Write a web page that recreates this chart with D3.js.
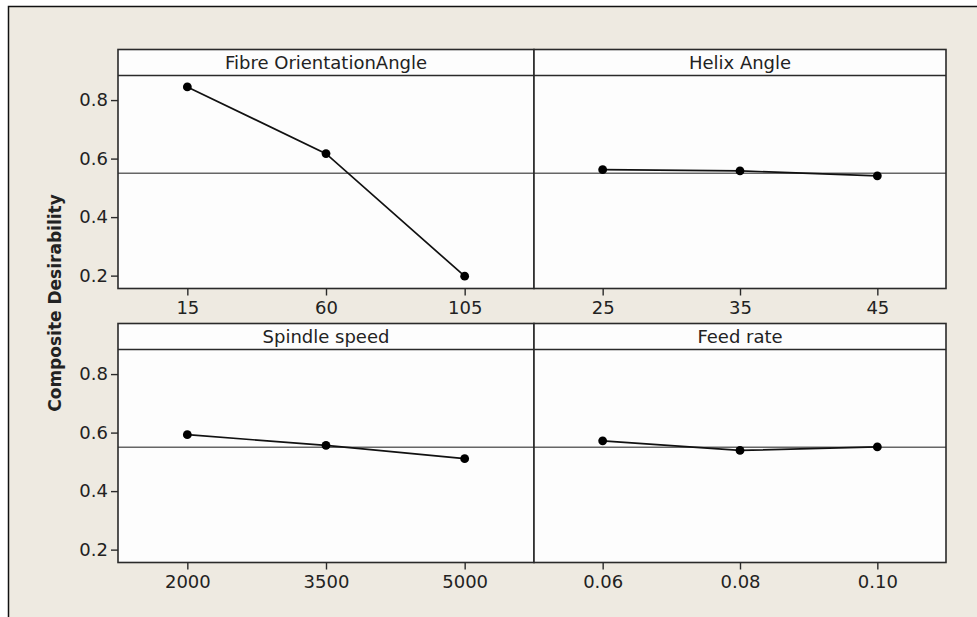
<!DOCTYPE html>
<html>
<head>
<meta charset="utf-8">
<script src="https://cdn.jsdelivr.net/npm/d3@7"></script>
<style>
  body { margin: 0; background: #ffffff; }
  text { font-family: "DejaVu Sans", Verdana, sans-serif; fill: #222; }
</style>
</head>
<body>
<div id="chart"></div>
<script>
// Factor names (panel headers)
var factors = ["Fibre OrientationAngle", "Helix Angle", "Spindle speed", "Feed rate"];

// Levels of each factor (x tick labels)
var fibreLevels = ["15", "60", "105"];
var helixLevels = ["25", "35", "45"];
var spindleLevels = ["2000", "3500", "5000"];
var feedLevels = ["0.06", "0.08", "0.10"];

// Mean composite desirability at each level
var fibreValues = [0.845, 0.617, 0.198];
var helixValues = [0.562, 0.558, 0.541];
var spindleValues = [0.593, 0.556, 0.511];
var feedValues = [0.572, 0.539, 0.551];

// Overall mean (reference line)
var overallMean = 0.55;

// Y ticks
var yTicks = [0.2, 0.4, 0.6, 0.8];

var width = 977, height = 617;

var svg = d3.select("#chart").append("svg")
    .attr("width", width)
    .attr("height", height);

// Beige background with frame
svg.append("rect")
    .attr("x", 8.5).attr("y", 6.5)
    .attr("width", 1000).attr("height", 1000)
    .attr("fill", "#eeeae1")
    .attr("stroke", "#111")
    .attr("stroke-width", 1.5);

// Panel grid geometry
var cols = [118, 534, 946];
var rows = [{ top: 49.5, plotTop: 75.5, plotBottom: 288.5 },
            { top: 323.5, plotTop: 349.5, plotBottom: 562.5 }];

var panels = [
    { name: factors[0], levels: fibreLevels, values: fibreValues, col: 0, row: 0 },
    { name: factors[1], levels: helixLevels, values: helixValues, col: 1, row: 0 },
    { name: factors[2], levels: spindleLevels, values: spindleValues, col: 0, row: 1 },
    { name: factors[3], levels: feedLevels, values: feedValues, col: 1, row: 1 }
];

panels.forEach(function (p) {
    var x0 = cols[p.col], x1 = cols[p.col + 1];
    var r = rows[p.row];

    var x = d3.scalePoint()
        .domain(p.levels)
        .range([x0, x1])
        .padding(0.5);

    var y = d3.scaleLinear()
        .domain([0.156, 0.884])
        .range([r.plotBottom, r.plotTop]);

    var g = svg.append("g");

    // Plot area
    g.append("rect")
        .attr("x", x0).attr("y", r.top)
        .attr("width", x1 - x0).attr("height", r.plotBottom - r.top)
        .attr("fill", "#fdfdfd");

    // Mean line
    g.append("line")
        .attr("x1", x0).attr("x2", x1)
        .attr("y1", y(overallMean)).attr("y2", y(overallMean))
        .attr("stroke", "#666")
        .attr("stroke-width", 1.6);

    // Data line
    var line = d3.line()
        .x(function (d, i) { return x(p.levels[i]); })
        .y(function (d) { return y(d); });

    g.append("path")
        .datum(p.values)
        .attr("d", line)
        .attr("fill", "none")
        .attr("stroke", "#111")
        .attr("stroke-width", 1.7);

    g.selectAll("circle")
        .data(p.values)
        .enter().append("circle")
        .attr("cx", function (d, i) { return x(p.levels[i]); })
        .attr("cy", function (d) { return y(d); })
        .attr("r", 4.4)
        .attr("fill", "#000");

    // Panel border and header strip
    g.append("rect")
        .attr("x", x0).attr("y", r.top)
        .attr("width", x1 - x0).attr("height", r.plotBottom - r.top)
        .attr("fill", "none")
        .attr("stroke", "#2a2a2a")
        .attr("stroke-width", 1.6);

    g.append("line")
        .attr("x1", x0).attr("x2", x1)
        .attr("y1", r.plotTop).attr("y2", r.plotTop)
        .attr("stroke", "#2a2a2a")
        .attr("stroke-width", 1.6);

    g.append("text")
        .attr("x", (x0 + x1) / 2)
        .attr("y", (r.top + r.plotTop) / 2)
        .attr("dy", "0.36em")
        .attr("text-anchor", "middle")
        .style("font-size", "18px")
        .text(p.name);

    // X axis
    var xAxis = g.append("g")
        .attr("transform", "translate(0," + r.plotBottom + ")")
        .call(d3.axisBottom(x).tickSize(7).tickPadding(6));
    xAxis.select(".domain").remove();
    xAxis.selectAll(".tick line").attr("stroke", "#2a2a2a").attr("stroke-width", 1.4);
    xAxis.selectAll(".tick text")
        .style("font-size", "18px")
        .style("font-family", "DejaVu Sans, Verdana, sans-serif")
        .attr("fill", "#222");

    // Y axis on left column only
    if (p.col === 0) {
        var yAxis = g.append("g")
            .attr("transform", "translate(" + x0 + ",0)")
            .call(d3.axisLeft(y).tickValues(yTicks).tickFormat(d3.format(".1f")).tickSize(7).tickPadding(3));
        yAxis.select(".domain").remove();
        yAxis.selectAll(".tick line").attr("stroke", "#2a2a2a").attr("stroke-width", 1.4);
        yAxis.selectAll(".tick text")
            .style("font-size", "18px")
            .style("font-family", "DejaVu Sans, Verdana, sans-serif")
            .attr("fill", "#222");
    }
});

// Shared y-axis title
svg.append("text")
    .attr("transform", "translate(61,303) rotate(-90)")
    .attr("text-anchor", "middle")
    .style("font-size", "17px")
    .style("font-weight", "bold")
    .text("Composite Desirability");
</script>
</body>
</html>
